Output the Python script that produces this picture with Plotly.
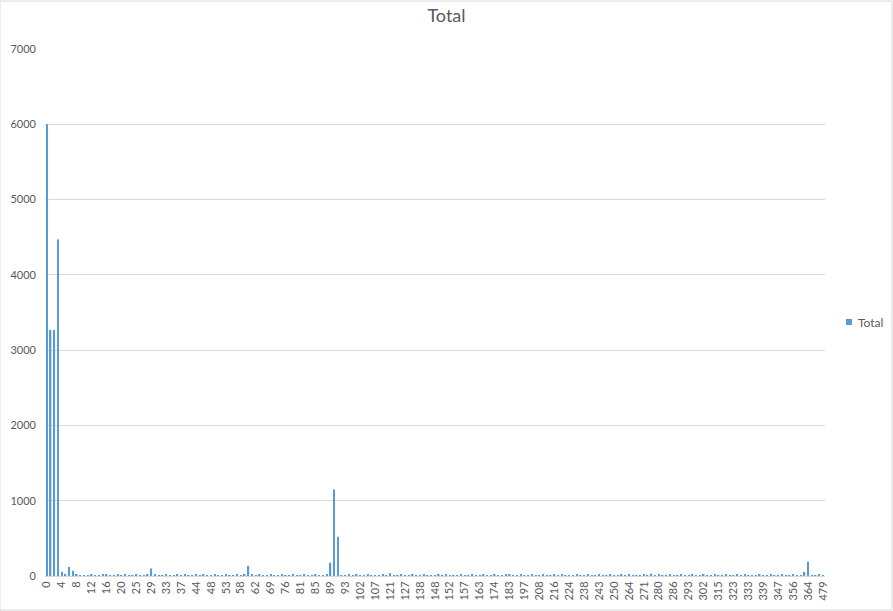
import plotly.graph_objects as go

# category values shown on the x axis (every 4th one is labelled)
days = [
    0, 1, 2, 3, 4, 5, 6, 7, 8, 9, 10, 11, 12, 13, 14, 15, 16, 17, 18, 19, 20,
    21, 22, 24, 25, 26, 27, 28, 29, 30, 31, 32, 33, 34, 35, 36, 37, 38, 40, 42,
    44, 45, 46, 47, 48, 49, 50, 52, 53, 54, 55, 57, 58, 59, 60, 61, 62, 63, 65, 67,
    69, 70, 72, 74, 76, 77, 78, 80, 81, 82, 83, 84, 85, 86, 87, 88, 89, 90, 91, 92,
    93, 95, 98, 100, 102, 103, 104, 106, 107, 110, 114, 118, 121, 123, 124, 126,
    127, 130, 133, 136, 138, 141, 144, 146, 148, 149, 150, 151, 152, 153, 154, 156,
    157, 158, 160, 162, 163, 166, 169, 172, 174, 176, 179, 181, 183, 186, 190, 194,
    197, 200, 203, 206, 208, 210, 212, 214, 216, 218, 220, 222, 224, 228, 232, 235,
    238, 239, 240, 242, 243, 245, 247, 249, 250, 254, 258, 261, 264, 266, 268, 270,
    271, 273, 276, 278, 280, 282, 283, 285, 286, 288, 290, 292, 293, 295, 298, 300,
    302, 306, 310, 313, 315, 317, 319, 321, 323, 326, 329, 331, 333, 335, 336, 337,
    339, 341, 343, 345, 347, 350, 352, 354, 356, 359, 361, 363, 364, 365, 366, 370,
    479,
]

totals = [
    6000, 3270, 3270, 4470, 55, 28, 120, 70, 20, 10,
    12, 10, 14, 10, 12, 15, 20, 12, 10, 14,
    12, 15, 10, 12, 14, 10, 12, 15, 100, 15,
    10, 12, 14, 10, 12, 15, 10, 14, 12, 10,
    14, 12, 15, 10, 12, 14, 10, 12, 15, 12,
    10, 14, 12, 15, 135, 25, 12, 14, 10, 12,
    15, 10, 12, 14, 10, 12, 15, 10, 12, 14,
    10, 12, 15, 10, 12, 14, 175, 1150, 520, 10,
    12, 14, 10, 15, 12, 10, 14, 12, 10, 12,
    15, 10, 35, 12, 10, 14, 12, 10, 15, 12,
    10, 14, 12, 10, 12, 15, 10, 14, 12, 10,
    12, 15, 10, 12, 14, 10, 12, 15, 10, 12,
    14, 10, 12, 28, 14, 10, 12, 15, 10, 12,
    14, 10, 12, 15, 10, 12, 22, 10, 14, 12,
    10, 12, 15, 10, 12, 14, 10, 12, 15, 10,
    12, 14, 10, 12, 15, 10, 14, 12, 10, 12,
    15, 10, 32, 12, 14, 10, 12, 15, 10, 12,
    14, 10, 12, 15, 10, 12, 14, 10, 12, 15,
    10, 12, 14, 10, 12, 15, 10, 14, 12, 10,
    12, 15, 10, 12, 14, 10, 12, 15, 10, 12,
    14, 10, 12, 55, 190, 12, 10, 14, 12,
]

y_ticks = [0, 1000, 2000, 3000, 4000, 5000, 6000, 7000]

series_name = 'Total'
bar_color = '#5B9BD5'

labels = [str(d) for d in days]

fig = go.Figure()
fig.add_trace(
    go.Bar(
        x=labels,
        y=totals,
        name=series_name,
        marker=dict(color=bar_color, line=dict(width=0)),
        showlegend=False,
    )
)

# plot area is 780 x 527 px; legend is drawn by hand (a real legend pushes the margin)
fig.update_layout(
    autosize=False,
    width=893,
    height=611,
    paper_bgcolor='white',
    plot_bgcolor='white',
    font=dict(family='Lato, Liberation Sans, sans-serif', color='#595959', size=11),
    title=dict(text='Total', x=0.5, xanchor='center', y=0.985, yanchor='top',
               font=dict(size=18, color='#595959')),
    margin=dict(l=45, r=68, t=49, b=35),
    bargap=0.6,
    showlegend=False,
    shapes=[
        dict(type='rect', xref='paper', yref='paper',
             x0=-45 / 780, x1=847 / 780, y0=-34 / 527, y1=48 / 527 + 1,
             line=dict(color='#d9d9d9', width=1)),
        dict(type='rect', xref='paper', yref='paper',
             x0=801 / 780, x1=807 / 780, y0=251 / 527, y1=257 / 527,
             fillcolor=bar_color, line=dict(width=0)),
    ],
    annotations=[
        dict(text=series_name, xref='paper', yref='paper',
             x=811 / 780, xanchor='left', y=254 / 527, yanchor='middle',
             showarrow=False, font=dict(size=12, color='#595959')),
    ],
)

fig.update_xaxes(
    type='category',
    tickmode='array',
    tickvals=labels[::4],
    ticktext=labels[::4],
    tickangle=-90,
    showgrid=False,
    showline=True,
    linecolor='#d9d9d9',
    ticks='',
    automargin=False,
    tickfont=dict(size=11),
)

fig.update_yaxes(
    range=[0, 7000],
    tickvals=y_ticks,
    showgrid=True,
    gridcolor='#d9d9d9',
    zeroline=False,
    ticks='',
    ticklabelstandoff=8,
    automargin=False,
    tickfont=dict(size=11),
)

# drop the default page margin and scrollbars so the chart sits at the window's origin
fig.write_html(
    "out.html",
    config={'displayModeBar': False, 'responsive': False},
    post_script="document.body.style.margin='0'; document.body.style.overflow='hidden';",
)
